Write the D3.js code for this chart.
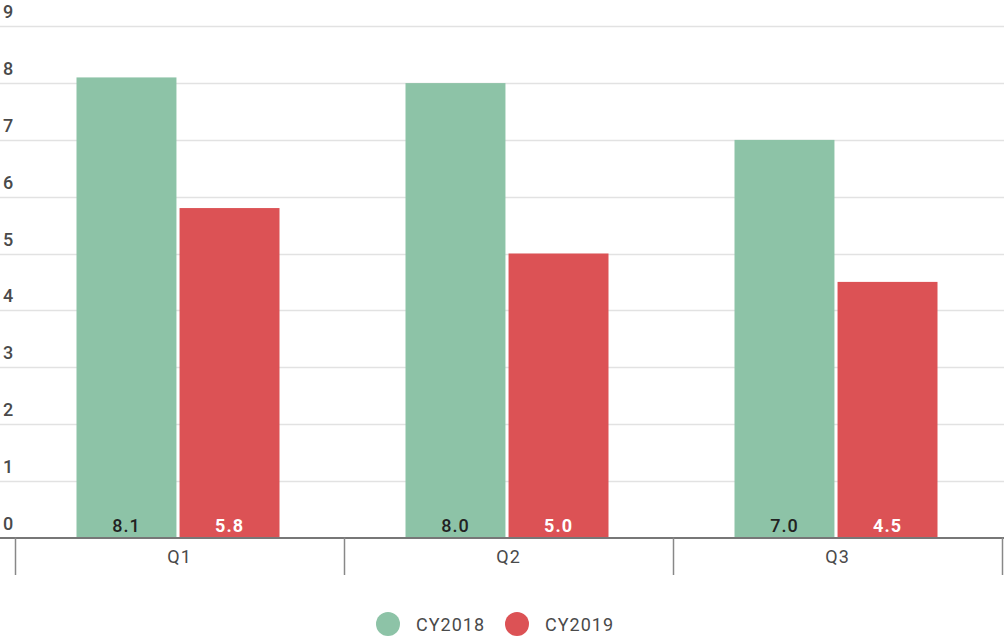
<!DOCTYPE html>
<html>
<head>
<meta charset="utf-8">
<script src="https://cdn.jsdelivr.net/npm/d3@7"></script>
<style>
  html, body { margin: 0; padding: 0; background: #fff; }
  svg { display: block; font-family: Roboto, "Noto Sans", sans-serif; }
  text { font-weight: 400; letter-spacing: 1px; }
</style>
</head>
<body>
<svg id="chart" width="1004" height="637"></svg>
<script>
// Quarterly values per calendar year
const quarters = ["Q1", "Q2", "Q3"];
const seriesNames = ["CY2018", "CY2019"];
const cy2018 = [8.1, 8.0, 7.0];
const cy2019 = [5.8, 5.0, 4.5];
const yTicks = [0, 1, 2, 3, 4, 5, 6, 7, 8, 9];
const colors = ["#8dc3a7", "#dc5255"];
const labelColors = ["#222", "#fff"];

const svg = d3.select("#chart");
const W = 1004;
const plotTop = 26.3, plotBottom = 537.5;

const x = d3.scaleBand().domain(quarters).range([15, 1002]).paddingInner(0).paddingOuter(0);
const xs = d3.scaleBand().domain(seriesNames).range([0, 203]).paddingInner(0.03);
const y = d3.scaleLinear().domain([0, 9]).range([plotBottom, plotTop]);

// Horizontal gridlines
svg.append("g").selectAll("line").data(yTicks.filter(d => d > 0)).join("line")
  .attr("x1", 0).attr("x2", W)
  .attr("y1", d => Math.round(y(d)) + 0.5).attr("y2", d => Math.round(y(d)) + 0.5)
  .attr("stroke", "#e2e2e2").attr("stroke-width", 1.5);

// Y tick labels sit above each gridline
svg.append("g").selectAll("text").data(yTicks).join("text")
  .attr("x", 3).attr("y", d => y(d) - 8)
  .attr("font-size", 18).attr("fill", "#4a4a4a")
  .style("font-weight", 500)
  .text(d => d);

// Bars
const rows = quarters.map((q, i) => ({ q, vals: [cy2018[i], cy2019[i]] }));
const groupW = 203;
const g = svg.append("g").selectAll("g").data(rows).join("g")
  .attr("transform", d => `translate(${x(d.q) + x.bandwidth() / 2 - groupW / 2 - 1.5},0)`);

g.selectAll("rect").data(d => d.vals.map((v, j) => ({ v, s: seriesNames[j], j }))).join("rect")
  .attr("x", d => xs(d.s)).attr("width", xs.bandwidth())
  .attr("y", d => y(d.v)).attr("height", d => plotBottom - y(d.v))
  .attr("fill", d => colors[d.j]);

g.selectAll("text").data(d => d.vals.map((v, j) => ({ v, s: seriesNames[j], j }))).join("text")
  .attr("x", d => xs(d.s) + xs.bandwidth() / 2).attr("y", plotBottom - 6)
  .attr("text-anchor", "middle").attr("font-size", 18)
  .style("font-weight", d => d.j === 1 ? 700 : 500)
  .attr("fill", d => labelColors[d.j])
  .text(d => d.v.toFixed(1));

// X axis: baseline, category dividers and labels
svg.append("line").attr("x1", 0).attr("x2", W).attr("y1", plotBottom + 0.5).attr("y2", plotBottom + 0.5)
  .attr("stroke", "#777").attr("stroke-width", 2);

const dividers = quarters.map(q => x(q)).concat([x.range()[1]]);
svg.append("g").selectAll("line").data(dividers).join("line")
  .attr("x1", d => Math.round(d) + 0.5).attr("x2", d => Math.round(d) + 0.5)
  .attr("y1", plotBottom).attr("y2", 575)
  .attr("stroke", "#888").attr("stroke-width", 1.5);

svg.append("g").selectAll("text").data(quarters).join("text")
  .attr("x", d => x(d) + x.bandwidth() / 2).attr("y", 563)
  .attr("text-anchor", "middle").attr("font-size", 18).attr("fill", "#4a4a4a")
  .text(d => d);

// Legend
const legendX = [388, 517];
const lg = svg.append("g").selectAll("g").data(seriesNames).join("g")
  .attr("transform", (d, i) => `translate(${legendX[i]},624)`);
lg.append("circle").attr("r", 12).attr("fill", (d, i) => colors[i]);
lg.append("text").attr("x", 28).attr("y", 6.5).attr("font-size", 18).attr("fill", "#4a4a4a").text(d => d);
</script>
</body>
</html>
